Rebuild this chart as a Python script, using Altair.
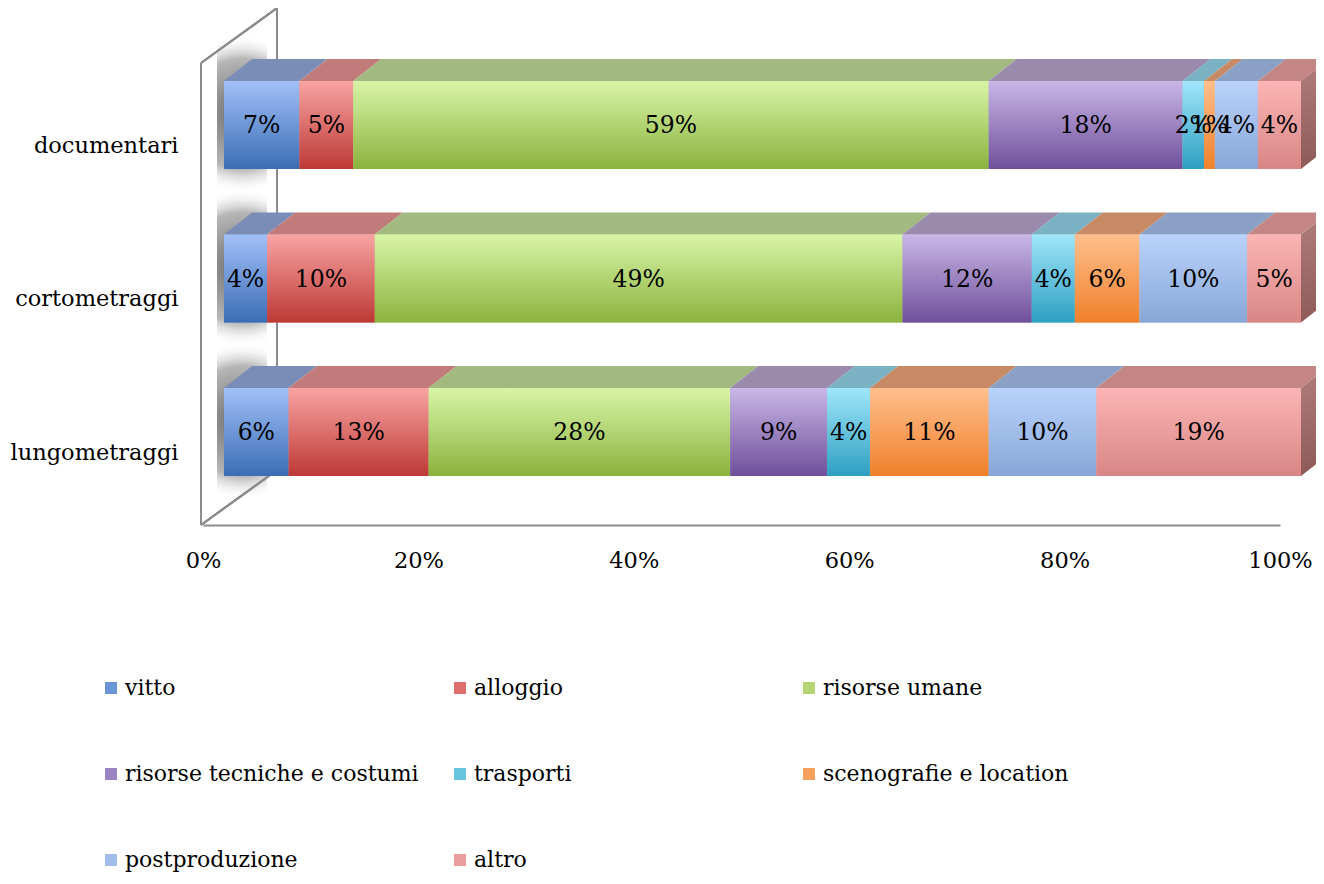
import altair as alt
import pandas as pd

# ---------------- data ----------------
categories = ["documentari", "cortometraggi", "lungometraggi"]
series = ["vitto", "alloggio", "risorse umane", "risorse tecniche e costumi",
          "trasporti", "scenografie e location", "postproduzione", "altro"]
documentari = [7, 5, 59, 18, 2, 1, 4, 4]
cortometraggi = [4, 10, 49, 12, 4, 6, 10, 5]
lungometraggi = [6, 13, 28, 9, 4, 11, 10, 19]
x_ticks = [0, 20, 40, 60, 80, 100]

# ---------------- styles ----------------
front_top = ["#A2C0F8", "#F8A4A3", "#D8F5A7", "#C9B7E6", "#A0E6FA", "#FFBF8D", "#BAD3FC", "#FBB5B4"]
front_bottom = ["#3A6DB5", "#BD3935", "#8BB33E", "#6F4F9B", "#2E9FC1", "#F0802A", "#88A6D7", "#D88685"]
top_colors = ["#7A8DB7", "#C07B7A", "#A2B980", "#9A8AAC", "#7AB1C3", "#C88A64", "#8AA0C4", "#C48685"]
legend_colors = ["#6A95D8", "#DE6E6C", "#B4D472", "#9C83C2", "#67C3DE", "#F8A05C", "#A2BDEA", "#EA9E9D"]
side_top, side_bottom = "#B27E7C", "#8E5A58"
GRAY = "#8C8C8C"
FONT = "DejaVu Serif"
FS_AXIS = 22.5
FS_VAL = 23.5
FS_LEG = 22

# ---------------- layout ----------------
PLOT_W, PLOT_H = 1077, 517
STEP = 153.5
PX_X = PLOT_W / 100.0
Y_MIN = -(525 - 432) / STEP
Y_MAX = (432 - 8) / STEP
HALF = 44 / STEP
DEPTH_Y = 22 / STEP
DEPTH_X = 28 / PX_X
FRONT_DX = 21

row_of = {c: len(categories) - 1 - i for i, c in enumerate(categories)}
values_of = {"documentari": documentari, "cortometraggi": cortometraggi,
             "lungometraggi": lungometraggi}

rows, tops, sides, shadows = [], [], [], []
for cat in categories:
    r = row_of[cat]
    start = 0
    for si, (s, v) in enumerate(zip(series, values_of[cat])):
        end = start + v
        rows.append(dict(cat=cat, row=r, series=s, sidx=si, val=v, start=start, end=end,
                         mid=(start + end) / 2, ylo=r - HALF, yhi=r + HALF,
                         label=f"{v}%"))
        seg = f"{cat}-{si}"
        tops.append(dict(seg=seg, series=s, sidx=si, y=r + HALF, xs=start, xe=end))
        tops.append(dict(seg=seg, series=s, sidx=si, y=r + HALF + DEPTH_Y,
                         xs=start + DEPTH_X, xe=end + DEPTH_X))
        start = end
    sides.append(dict(cat=cat, x=100, ylo=r - HALF, yhi=r + HALF))
    sides.append(dict(cat=cat, x=100 + DEPTH_X, ylo=r - HALF + DEPTH_Y, yhi=r + HALF + DEPTH_Y))
    shadows.append(dict(cat=cat, ylo=r - HALF - 24 / STEP, yhi=r + HALF + DEPTH_Y + 24 / STEP))

df = pd.DataFrame(rows)
df_top = pd.DataFrame(tops)
df_side = pd.DataFrame(sides)
df_shadow = pd.DataFrame(shadows)

xs = alt.Scale(domain=[0, 100], nice=False, zero=False)
ys = alt.Scale(domain=[Y_MIN, Y_MAX], nice=False, zero=False)

label_expr = " : ".join(
    [f"datum.value == {row_of[c]} ? '{c}'" for c in categories[:-1]]) + f" : '{categories[-1]}'"

x_axis = alt.Axis(values=x_ticks, labelExpr="datum.value + '%'", title=None, grid=False,
                  ticks=False, tickSize=0, domain=True, domainColor=GRAY, domainWidth=2,
                  labelFont=FONT, labelFontSize=FS_AXIS, labelColor="black",
                  labelPadding=35, labelBaseline="middle", labelFlush=False)
y_axis = alt.Axis(values=[row_of[c] for c in categories], labelExpr=label_expr, title=None,
                  grid=False, ticks=False, tickSize=0, domain=False,
                  labelFont=FONT, labelFontSize=FS_AXIS, labelColor="black",
                  labelPadding=25, labelOffset=20, labelBaseline="middle")


def grad(c0, c1, horizontal=False):
    return alt.LinearGradient(
        gradient="linear",
        stops=[alt.GradientStop(offset=0, color=c0), alt.GradientStop(offset=1, color=c1)],
        x1=0, y1=0, x2=1 if horizontal else 0, y2=0 if horizontal else 1)


layers = []

# soft wall shadow behind the left end of each bar
shadow_grad = alt.RadialGradient(
    gradient="radial", x1=0.5, y1=0.5, r1=0, x2=0.5, y2=0.5, r2=0.5,
    stops=[alt.GradientStop(offset=0, color="rgba(70,70,70,0.85)"),
           alt.GradientStop(offset=0.7, color="rgba(110,110,110,0.5)"),
           alt.GradientStop(offset=1, color="rgba(255,255,255,0)")])
layers.append(alt.Chart(df_shadow).mark_rect(fill=shadow_grad).encode(
    x=alt.value(14), x2=alt.value(64),
    y=alt.Y("ylo:Q", scale=ys, axis=y_axis), y2="yhi:Q"))

# wall lines (side wall of the 3-D frame)
for (x1, y1, x2, y2) in [(-2, 55, -2, 517), (-2, 55, 74, 0), (74, 0, 74, 462), (-2, 517, 74, 462)]:
    layers.append(alt.Chart(df_shadow).mark_rule(color=GRAY, strokeWidth=2).encode(
        x=alt.value(x1), y=alt.value(y1), x2=alt.value(x2), y2=alt.value(y2)))

# base front faces (carry the legend), covered by gradient faces
layers.append(alt.Chart(df).mark_rect(xOffset=FRONT_DX, x2Offset=FRONT_DX).encode(
    x=alt.X("start:Q", scale=xs, axis=x_axis), x2="end:Q",
    y=alt.Y("ylo:Q", scale=ys, axis=y_axis), y2="yhi:Q",
    color=alt.Color("series:N", scale=alt.Scale(domain=series, range=legend_colors),
                    sort=series,
                    legend=alt.Legend(orient="none", legendX=-103, legendY=669, columns=3,
                                      direction="horizontal", padding=0,
                                      title=None, symbolType="square", symbolSize=144,
                                      symbolStrokeWidth=0,
                                      labelFont=FONT, labelFontSize=FS_LEG, labelColor="black",
                                      labelOffset=3, labelLimit=500, gridAlign="all",
                                      columnPadding=30, rowPadding=64))))

for si, s in enumerate(series):
    # top face
    layers.append(alt.Chart(df_top[df_top.sidx == si]).mark_area(
        orient="horizontal", fill=top_colors[si], xOffset=FRONT_DX, x2Offset=FRONT_DX).encode(
        y=alt.Y("y:Q", scale=ys, axis=y_axis),
        x=alt.X("xs:Q", scale=xs, axis=x_axis, stack=None), x2="xe:Q",
        detail="seg:N"))
    # front face with gradient
    layers.append(alt.Chart(df[df.sidx == si]).mark_rect(
        fill=grad(front_top[si], front_bottom[si]), xOffset=FRONT_DX, x2Offset=FRONT_DX).encode(
        x=alt.X("start:Q", scale=xs, axis=x_axis), x2="end:Q",
        y=alt.Y("ylo:Q", scale=ys, axis=y_axis), y2="yhi:Q"))

# right side faces
layers.append(alt.Chart(df_side).mark_area(orient="vertical", fill=grad(side_top, side_bottom),
                                           xOffset=FRONT_DX).encode(
    x=alt.X("x:Q", scale=xs, axis=x_axis),
    y=alt.Y("ylo:Q", scale=ys, axis=y_axis, stack=None), y2="yhi:Q",
    detail="cat:N"))

# value labels
layers.append(alt.Chart(df).mark_text(font=FONT, fontSize=FS_VAL, color="black", align="center",
                                      baseline="middle", xOffset=FRONT_DX, yOffset=1).encode(
    x=alt.X("mid:Q", scale=xs, axis=x_axis),
    y=alt.Y("row:Q", scale=ys, axis=y_axis),
    text="label:N"))

chart = alt.layer(*layers).properties(
    width=PLOT_W, height=PLOT_H,
    padding={"left": 195, "top": 0, "right": 36, "bottom": 351},
    autosize=alt.AutoSizeParams(type="none"),
    background="white",
).configure_view(stroke=None)

chart.save("out.html", embed_options={"renderer": "svg", "actions": False})
